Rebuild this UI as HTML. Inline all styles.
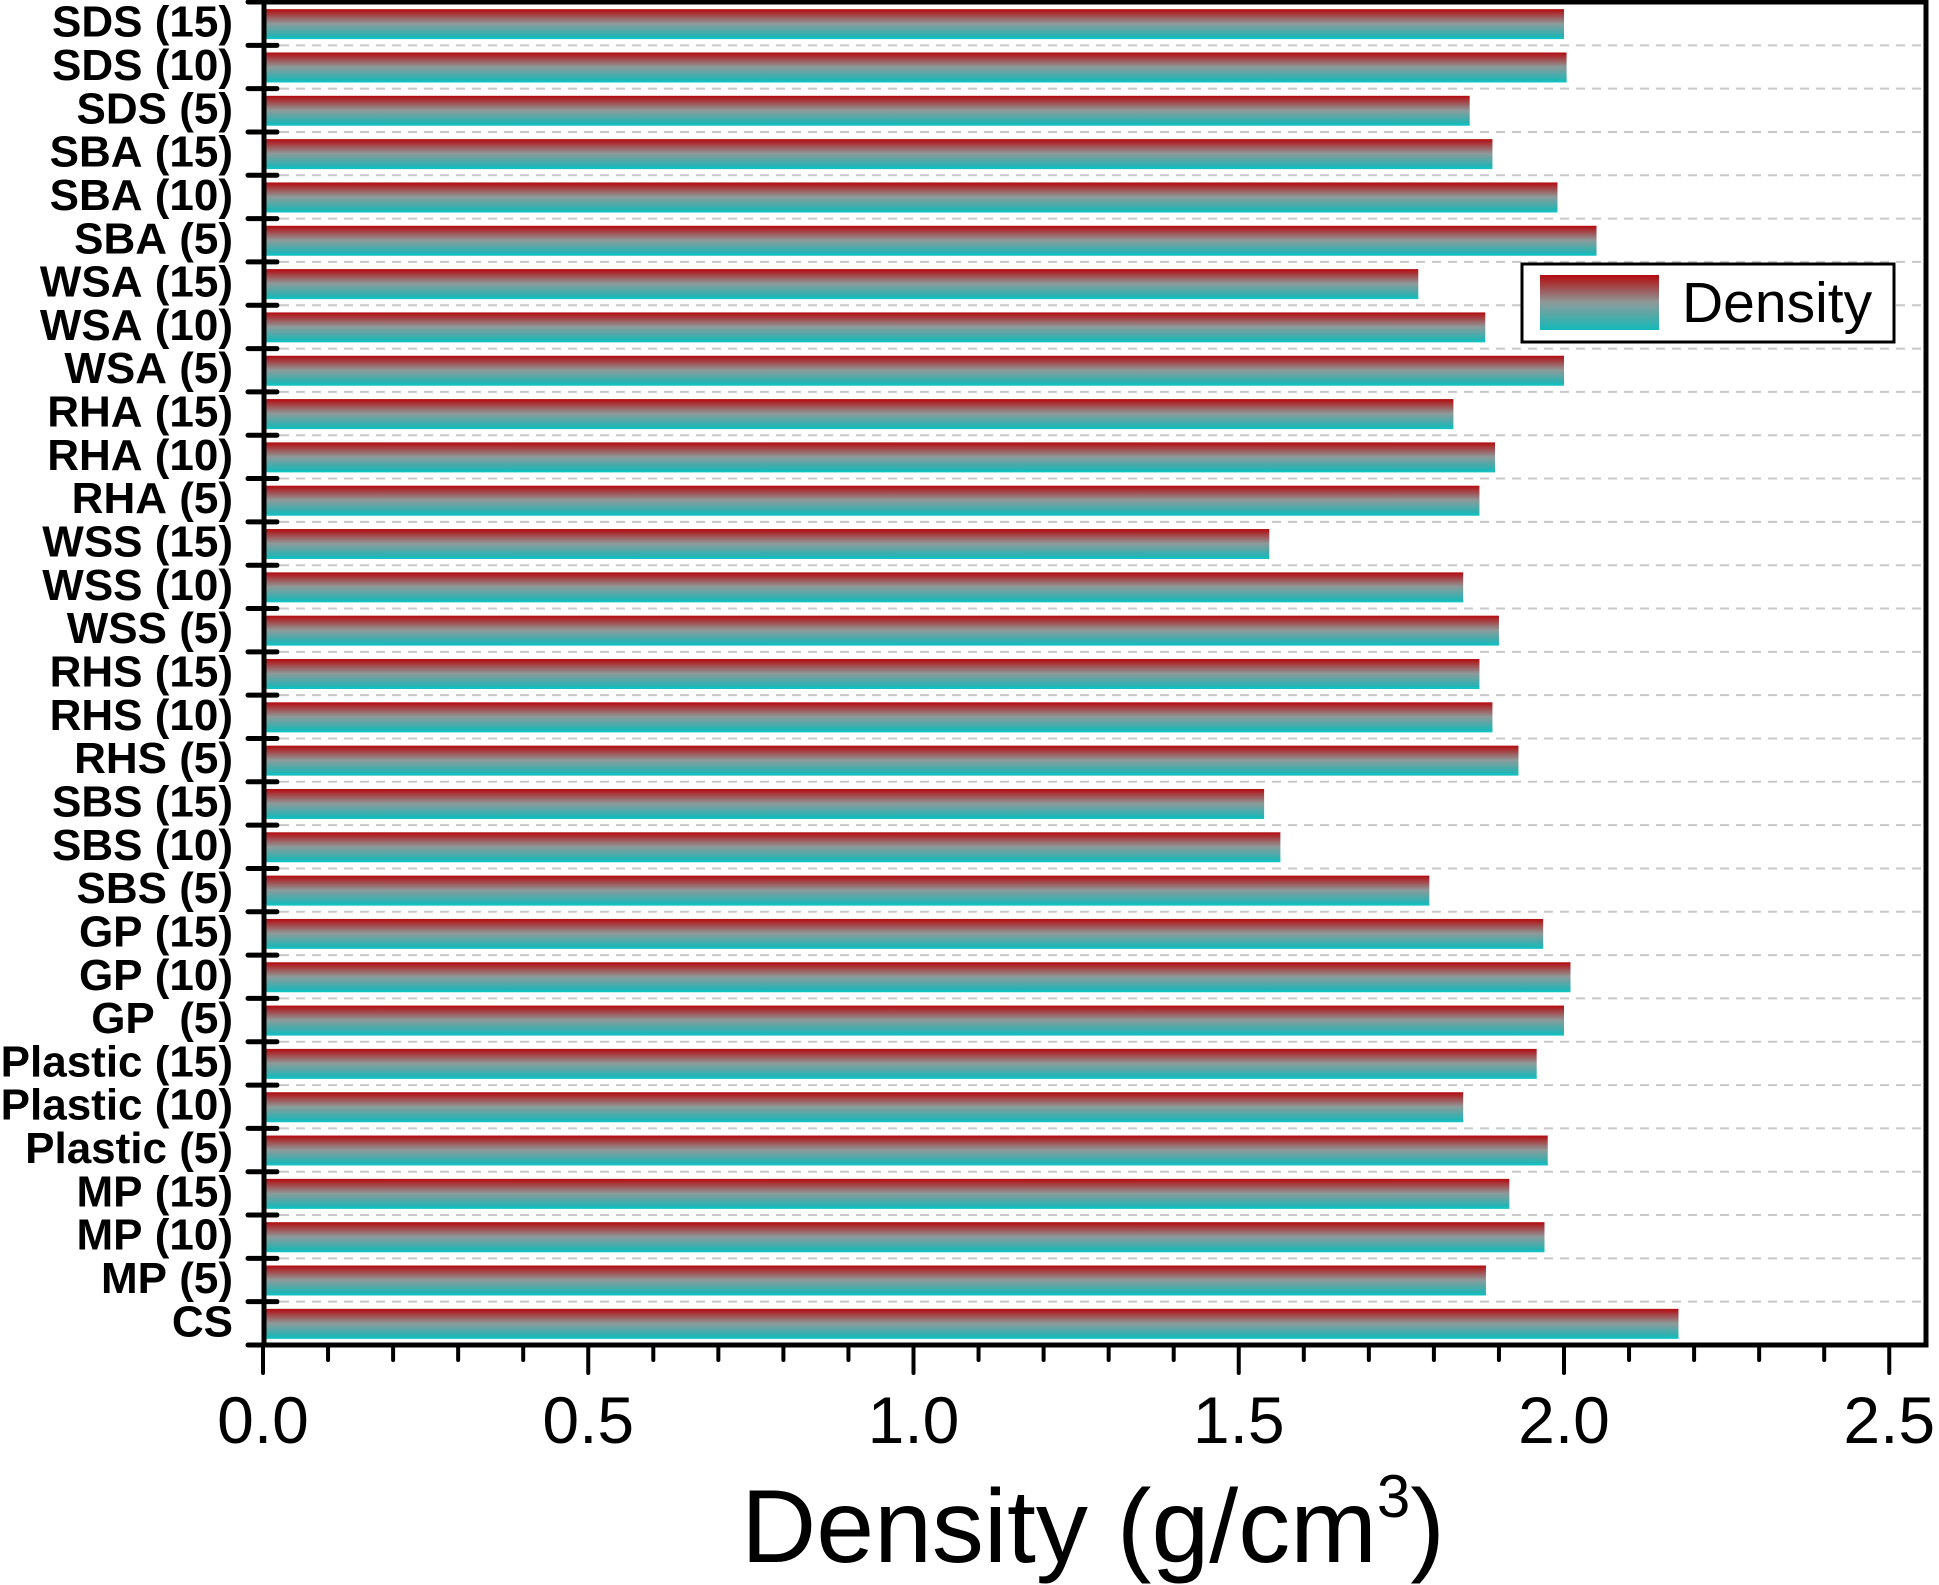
<!DOCTYPE html>
<html><head><meta charset="utf-8"><style>html,body{margin:0;padding:0;background:#fff}svg{display:block}</style></head>
<body>
<svg id="s" width="1939" height="1585" xmlns="http://www.w3.org/2000/svg" font-family="Liberation Sans, sans-serif">
<defs><linearGradient id="g" x1="0" y1="0" x2="0" y2="1">
<stop offset="0" stop-color="#b30a0e"/><stop offset="0.5" stop-color="#8e9a9a"/><stop offset="1" stop-color="#14b8b8"/></linearGradient></defs>
</svg>
<script>
var s=document.getElementById('s'),ns='http://www.w3.org/2000/svg';
function el(t,a,txt){var e=document.createElementNS(ns,t);for(var k in a)e.setAttribute(k,a[k]);if(txt!=null)e.textContent=txt;s.appendChild(e);return e;}
var L=264,R=1926,T=2,B=1345,X0=263,U=650.5;
var cats=[["SDS (15)",2.0],["SDS (10)",2.004],["SDS (5)",1.855],["SBA (15)",1.89],["SBA (10)",1.99],["SBA (5)",2.05],["WSA (15)",1.776],["WSA (10)",1.879],["WSA (5)",2.0],["RHA (15)",1.83],["RHA (10)",1.894],["RHA (5)",1.87],["WSS (15)",1.547],["WSS (10)",1.845],["WSS (5)",1.9],["RHS (15)",1.87],["RHS (10)",1.89],["RHS (5)",1.93],["SBS (15)",1.539],["SBS (10)",1.564],["SBS (5)",1.793],["GP (15)",1.968],["GP (10)",2.01],["GP  (5)",2.0],["Plastic (15)",1.958],["Plastic (10)",1.845],["Plastic (5)",1.975],["MP (15)",1.916],["MP (10)",1.97],["MP (5)",1.88],["CS",2.176]];
var n=cats.length,h=(B-T)/n;
for(var i=1;i<n;i++){var y=T+i*h;el('line',{x1:L,x2:R,y1:y,y2:y,stroke:'#c8c8c8','stroke-width':2,'stroke-dasharray':'9 7'});}
cats.forEach(function(c,i){var yc=T+(i+0.5)*h;var bh=29;
el('rect',{x:L,y:yc-bh/2,width:X0+c[1]*U-L,height:bh,fill:'url(#g)'});
el('line',{x1:L,x2:X0+c[1]*U,y1:yc+bh/2,y2:yc+bh/2,stroke:'#17c0c0','stroke-width':2});
el('text',{x:233,y:yc+13,'text-anchor':'end','font-size':44,'font-weight':'bold'},c[0].replace(/ /g,'\u00a0'));});
for(var i=0;i<=n;i++){var y=T+i*h;el('line',{x1:248,x2:277,y1:y,y2:y,stroke:'#000','stroke-width':5,'stroke-linecap':'round'});}
el('rect',{x:L,y:T,width:R-L,height:B-T,fill:'none',stroke:'#000','stroke-width':5});
for(var k=0;k<=25;k++){var x=X0+k*0.1*U;var maj=k%5==0;
el('line',{x1:x,x2:x,y1:B,y2:B+(maj?28:15),stroke:'#000','stroke-width':4,'stroke-linecap':'round'});
if(maj)el('text',{x:x,y:1443,'text-anchor':'middle','font-size':66},(k/10).toFixed(1));}
var t=el('text',{x:1093,y:1562,'text-anchor':'middle','font-size':104},'Density (g/cm');
var sp=document.createElementNS(ns,'tspan');sp.setAttribute('font-size',60);sp.setAttribute('dy',-45);sp.textContent='3';t.appendChild(sp);
var sp2=document.createElementNS(ns,'tspan');sp2.setAttribute('dy',45);sp2.textContent=')';t.appendChild(sp2);
el('rect',{x:1522,y:264,width:372,height:78,fill:'#fff',stroke:'#000','stroke-width':3});
el('rect',{x:1540,y:275,width:119,height:55,fill:'url(#g)'});
el('text',{x:1682,y:322,'font-size':57},'Density');
</script>
</body></html>
